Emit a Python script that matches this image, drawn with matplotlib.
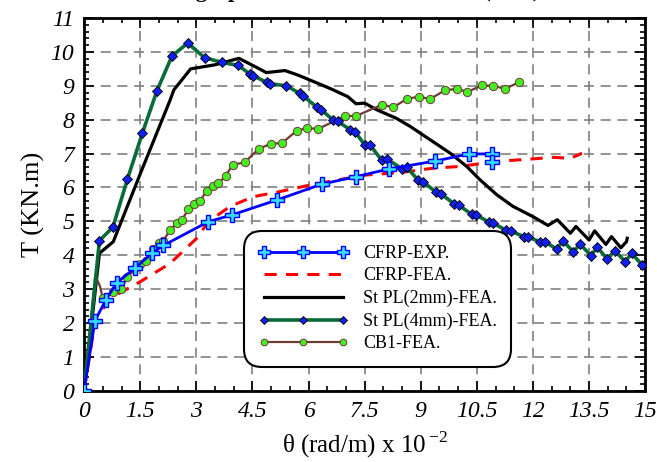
import numpy as np
import matplotlib
matplotlib.use("Agg")
import matplotlib.pyplot as plt
from matplotlib.ticker import MultipleLocator, FormatStrFormatter

plt.rcParams['font.family'] = ['Liberation Serif', 'DejaVu Serif']
plt.rcParams['mathtext.fontset'] = 'custom'
plt.rcParams['mathtext.rm'] = 'Liberation Serif'

# CFRP-EXP.
exp_x = [0, 0.29, 0.58, 0.87, 1.36, 1.81, 2.12, 3.32, 3.95, 5.15, 6.36, 7.27, 8.16, 9.39, 10.28, 10.9, 10.9]
exp_y = [0, 2.07, 2.68, 3.19, 3.62, 4.06, 4.29, 4.99, 5.19, 5.63, 6.1, 6.32, 6.55, 6.78, 6.99, 6.99, 6.76]

# CFRP-FEA.
fea_x = [0, 0.29, 0.33, 0.78, 1.5, 2.3, 3.01, 3.32, 3.9, 4.53, 5.15, 5.95, 6.66, 7.56, 8.45, 9.33, 10.05, 10.5, 10.9, 11.83, 12.55, 13.0, 13.31]
fea_y = [0, 2.03, 2.2, 2.78, 3.22, 3.76, 4.5, 4.99, 5.44, 5.73, 5.86, 6.05, 6.2, 6.37, 6.44, 6.57, 6.62, 6.69, 6.76, 6.83, 6.89, 6.86, 7.01]

# St PL(2mm)-FEA.
pl2_x = [0, 0.41, 0.78, 1.5, 2.3, 2.4, 2.85, 3.5, 4.14, 4.6, 4.87, 5.37, 5.71, 6.3, 6.66, 7.05, 7.27, 7.5, 7.83, 8.35,
         8.72, 9.33, 9.79, 10.23, 10.59, 11.04, 11.47, 12.0, 12.4, 12.65, 13.0, 13.15, 13.5, 13.65, 13.95, 14.1, 14.35, 14.5, 14.52]
pl2_y = [0, 4.06, 4.4, 6.4, 8.58, 8.88, 9.5, 9.62, 9.81, 9.55, 9.39, 9.45, 9.32, 9.05, 8.88, 8.68, 8.47, 8.49, 8.29, 8.04,
         7.8, 7.35, 7.01, 6.62, 6.22, 5.78, 5.44, 5.14, 4.88, 5.05, 4.65, 4.85, 4.45, 4.72, 4.32, 4.55, 4.22, 4.4, 4.5]

# St PL(4mm)-FEA.
pl4_x = [0, 0.41, 0.77, 1.16, 1.56, 1.95, 2.35, 2.77, 3.22, 3.69, 4.12, 4.43, 4.52, 4.88, 4.97, 5.41, 5.76, 5.86,
         6.22, 6.33, 6.66, 6.78, 7.12, 7.24, 7.5, 7.64, 7.96, 8.1, 8.5, 8.62, 8.93, 9.06, 9.4, 9.53, 9.89, 10.01,
         10.36, 10.48, 10.82, 10.94, 11.27, 11.4, 11.75, 11.88, 12.2, 12.33, 12.64, 12.8, 13.08, 13.26, 13.55,
         13.72, 13.99, 14.18, 14.47, 14.64, 14.91]
pl4_y = [0, 4.43, 4.83, 6.25, 7.61, 8.86, 9.88, 10.26, 9.83, 9.69, 9.6, 9.35, 9.3, 9.1, 9.06, 9.0, 8.78, 8.7,
         8.37, 8.3, 7.99, 7.95, 7.7, 7.65, 7.26, 7.26, 6.8, 6.84, 6.55, 6.6, 6.22, 6.17, 5.87, 5.82, 5.52, 5.48,
         5.21, 5.19, 4.98, 4.95, 4.74, 4.72, 4.55, 4.54, 4.39, 4.39, 4.18, 4.43, 4.1, 4.33, 3.99,
         4.24, 3.88, 4.14, 3.81, 4.06, 3.72]

# CB1-FEA.
cb1_x = [0, 0.3, 0.42, 0.5, 0.77, 0.98, 1.16, 1.34, 1.5, 1.65, 1.84, 1.99, 2.12, 2.3, 2.48, 2.61, 2.79, 2.95, 3.1,
         3.28, 3.44, 3.59, 3.79, 3.97, 4.29, 4.67, 4.99, 5.29, 5.69, 5.97, 6.26, 6.98, 7.27, 7.96, 8.27, 8.64,
         8.96, 9.25, 9.65, 9.96, 10.25, 10.63, 10.94, 11.26, 11.63]
cb1_y = [0, 3.4, 3.1, 2.74, 2.93, 3.0, 3.35, 3.59, 3.75, 3.83, 4.18, 4.35, 4.43, 4.75, 4.94, 5.04, 5.36, 5.52, 5.61,
         5.9, 6.05, 6.12, 6.35, 6.67, 6.74, 7.14, 7.29, 7.31, 7.68, 7.75, 7.73, 8.11, 8.11, 8.44, 8.37, 8.62,
         8.68, 8.61, 8.87, 8.91, 8.82, 9.01, 9.0, 8.91, 9.11]

fig = plt.figure(figsize=(6.57, 4.62), dpi=100)
ax = fig.add_axes([0.128, 0.154, 0.854, 0.807])

ax.plot(fea_x, fea_y, color='#ff0000', lw=2.2, dashes=(4, 3), label='CFRP-FEA.', zorder=3)
ax.plot(pl2_x, pl2_y, color='black', lw=2.3, label='St PL(2mm)-FEA.', zorder=3)
ax.plot(cb1_x, cb1_y, color='#6e3b35', lw=1.6, marker='o', markersize=6, markerfacecolor='#44ee22',
        markeredgecolor='#6e3b35', markeredgewidth=0.7, markevery=list(range(3, len(cb1_x))), label='CB1-FEA.', zorder=4)
ax.plot(pl4_x, pl4_y, color='#0a6b3a', lw=2.6, marker='D', markersize=5.5, markerfacecolor='#1020ee',
        markeredgecolor='black', markeredgewidth=0.6, label='St PL(4mm)-FEA.', zorder=5)
ax.plot(exp_x, exp_y, color='#0000ff', lw=2, marker='P', markersize=10, markerfacecolor='#33ddff',
        markeredgecolor='#0000ff', markeredgewidth=1, label='CFRP-EXP.', zorder=6)

ax.set_xlim(0, 15)
ax.set_ylim(0, 11)
ax.xaxis.set_major_locator(MultipleLocator(1.5))
ax.xaxis.set_minor_locator(MultipleLocator(0.5))
ax.yaxis.set_major_locator(MultipleLocator(1))
ax.yaxis.set_minor_locator(MultipleLocator(0.2))
ax.xaxis.set_major_formatter(FormatStrFormatter('%g'))
ax.yaxis.set_major_formatter(FormatStrFormatter('%g'))
ax.tick_params(which='both', direction='in', top=True, right=True, width=1.2)
ax.tick_params(which='major', length=7, labelsize=17, pad=7)
ax.tick_params(which='minor', length=3.5)
for lab in ax.get_xticklabels() + ax.get_yticklabels():
    lab.set_fontstyle('italic')
for sp in ax.spines.values():
    sp.set_linewidth(2)
ax.grid(True, which='major', color='#808080', lw=1.2, linestyle=(0, (6, 4)))

ax.set_xlabel(r'θ (rad/m) x 10$^{\,\mathregular{-2}}$', fontsize=18, labelpad=6)
ax.set_ylabel('T (KN.m)', fontsize=19, labelpad=4)

handles, labels = ax.get_legend_handles_labels()
order = ['CFRP-EXP.', 'CFRP-FEA.', 'St PL(2mm)-FEA.', 'St PL(4mm)-FEA.', 'CB1-FEA.']
hl = {l: h for h, l in zip(handles, labels)}
leg = ax.legend([hl[o] for o in order], order, loc='lower left', bbox_to_anchor=(0.275, 0.05),
                fontsize=13, handlelength=5, numpoints=3, markerscale=0.8, fancybox=True,
                framealpha=1, edgecolor='black', borderpad=0.6, labelspacing=0.3, handletextpad=0.8)
leg.get_frame().set_linewidth(1.5)
leg.get_frame().set_boxstyle('round', pad=0.2, rounding_size=1.0)
leg.set_zorder(10)

fig.text(0.18, 1.006, 'Torsion graphs of all the tested beams (CB1)', fontsize=16, fontweight='bold',
         ha='left', va='baseline')

fig.savefig('out.png', dpi=100)
